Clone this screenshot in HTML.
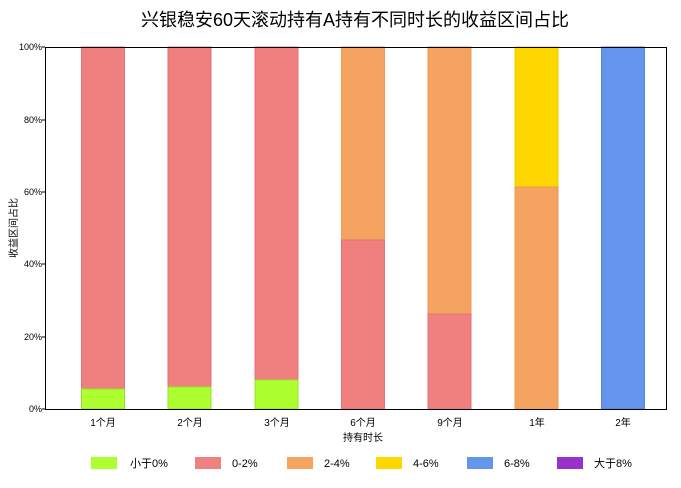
<!DOCTYPE html>
<html><head><meta charset="utf-8"><style>
body{margin:0;background:#fff;}
svg text{font-family:"Liberation Sans","Noto Sans CJK SC",sans-serif;}
</style></head><body>
<svg width="681" height="483" xmlns="http://www.w3.org/2000/svg">
<text x="355" y="26" font-size="18" text-anchor="middle" fill="#000">兴银稳安60天滚动持有A持有不同时长的收益区间占比</text>
<g stroke-width="1">
<!-- 1个月 -->
<rect x="81.5" y="47" width="43" height="342" fill="#F08080" stroke="#e8707a"/>
<rect x="81.5" y="389" width="43" height="20" fill="#ADFF2F" stroke="#9be02a"/>
<!-- 2个月 -->
<rect x="168" y="47" width="43" height="340" fill="#F08080" stroke="#e8707a"/>
<rect x="168" y="387" width="43" height="22" fill="#ADFF2F" stroke="#9be02a"/>
<!-- 3个月 -->
<rect x="255" y="47" width="43" height="333" fill="#F08080" stroke="#e8707a"/>
<rect x="255" y="380" width="43" height="29" fill="#ADFF2F" stroke="#9be02a"/>
<!-- 6个月 -->
<rect x="341.5" y="47" width="43" height="193" fill="#F4A460" stroke="#ee9a50"/>
<rect x="341.5" y="240" width="43" height="169" fill="#F08080" stroke="#e8707a"/>
<!-- 9个月 -->
<rect x="428" y="47" width="43" height="267" fill="#F4A460" stroke="#ee9a50"/>
<rect x="428" y="314" width="43" height="95" fill="#F08080" stroke="#e8707a"/>
<!-- 1年 -->
<rect x="515" y="47" width="43" height="140" fill="#FFD700" stroke="#f0c800"/>
<rect x="515" y="187" width="43" height="222" fill="#F4A460" stroke="#ee9a50"/>
<!-- 2年 -->
<rect x="601.5" y="47" width="43" height="362" fill="#6495ED" stroke="#5585e0"/>
</g>
<rect x="45.5" y="47.5" width="621" height="362" fill="none" stroke="#000" stroke-width="1"/>
<g font-size="9" text-anchor="end" fill="#000">
<text x="42" y="412">0%</text><line x1="42" x2="45" y1="409" y2="409" stroke="#000"/>
<text x="42" y="340">20%</text><line x1="42" x2="45" y1="337" y2="337" stroke="#000"/>
<text x="42" y="267">40%</text><line x1="42" x2="45" y1="264" y2="264" stroke="#000"/>
<text x="42" y="195">60%</text><line x1="42" x2="45" y1="192" y2="192" stroke="#000"/>
<text x="42" y="123">80%</text><line x1="42" x2="45" y1="120" y2="120" stroke="#000"/>
<text x="42" y="50">100%</text><line x1="42" x2="45" y1="47" y2="47" stroke="#000"/>
</g>
<g font-size="10" text-anchor="middle" fill="#000">
<text x="103" y="426">1个月</text><text x="190" y="426">2个月</text><text x="277" y="426">3个月</text>
<text x="363" y="426">6个月</text><text x="450" y="426">9个月</text><text x="537" y="426">1年</text><text x="623" y="426">2年</text>
<text x="363" y="441">持有时长</text>
<text transform="translate(17,228) rotate(-90)">收益区间占比</text>
</g>
<g font-size="11" fill="#000">
<rect x="91" y="457" width="26" height="12" fill="#ADFF2F"/><text x="130" y="467">小于0%</text>
<rect x="195" y="457" width="26" height="12" fill="#F08080"/><text x="232" y="467">0-2%</text>
<rect x="287" y="457" width="26" height="12" fill="#F4A460"/><text x="324" y="467">2-4%</text>
<rect x="376" y="457" width="26" height="12" fill="#FFD700"/><text x="413" y="467">4-6%</text>
<rect x="467" y="457" width="26" height="12" fill="#6495ED"/><text x="504" y="467">6-8%</text>
<rect x="557" y="457" width="26" height="12" fill="#9932CC"/><text x="594" y="467">大于8%</text>
</g>
</svg>
</body></html>
